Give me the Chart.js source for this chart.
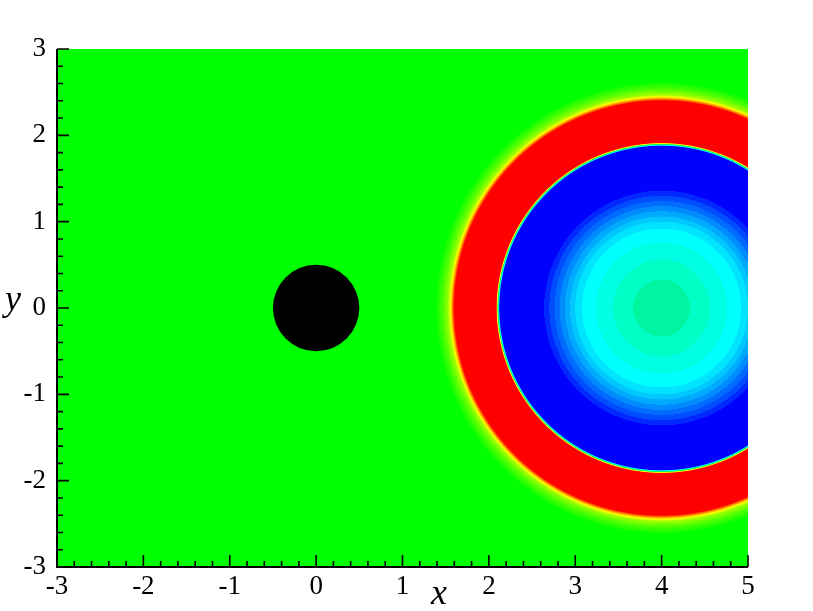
<!DOCTYPE html>
<html>
<head>
<meta charset="utf-8">
<script src="https://cdn.jsdelivr.net/npm/chart.js@4/dist/chart.umd.min.js"></script>
<style>
html,body{margin:0;padding:0;background:#fff;}
canvas{display:block;}
</style>
</head>
<body>
<canvas id="c" width="813" height="611"></canvas>
<script>
// ---- data ----
const xRange = [-3, 5];
const yRange = [-3, 3];
const xTickValues = [-3, -2, -1, 0, 1, 2, 3, 4, 5];
const yTickValues = [-3, -2, -1, 0, 1, 2, 3];
const minorStep = 0.2;
const obstacleCenter = [{x: 0, y: 0}];
const obstacleRadius = 0.5;
const ringCenter = [4, 0];
// radial profile of the contoured field around ringCenter (radius, colour)
const profileRadius = [0.00, 0.33, 0.33, 0.56, 0.56, 0.76, 0.76, 0.92, 0.92, 1.00, 1.00, 1.06, 1.06, 1.12, 1.12, 1.18, 1.18, 1.24, 1.24, 1.30, 1.30, 1.36, 1.36, 1.875, 1.885, 1.895, 1.905, 1.915, 2.40, 2.42, 2.445, 2.47, 2.53, 2.62, 99];
const profileColor  = ['#00f5a0','#00f5a0','#00ffc4','#00ffc4','#00ffe2','#00ffe2','#00ffff','#00ffff','#00e4ff','#00e4ff','#00c8ff','#00c8ff','#00aaff','#00aaff','#008cff','#008cff','#006cff','#006cff','#004cff','#004cff','#0028ff','#0028ff','#0000ff','#0000ff','#00ffff','#00ff60','#ffff00','#ff0000','#ff0000','#ff8000','#ffff00','#a0ff00','#50ff00','#00ff00','#00ff00'];
const xTitle = 'x';
const yTitle = 'y';

function hexToRgb(h){ return [parseInt(h.slice(1,3),16), parseInt(h.slice(3,5),16), parseInt(h.slice(5,7),16)]; }
const profileRgb = profileColor.map(hexToRgb);
function colourAt(r){
  for (let i = 0; i < profileRadius.length - 1; i++){
    const r0 = profileRadius[i], r1 = profileRadius[i+1];
    if (r >= r0 && r <= r1 && r1 > r0){
      const t = (r - r0) / (r1 - r0);
      const a = profileRgb[i], b = profileRgb[i+1];
      return [a[0]+(b[0]-a[0])*t, a[1]+(b[1]-a[1])*t, a[2]+(b[2]-a[2])*t];
    }
  }
  return profileRgb[profileRgb.length-1];
}

const fieldPlugin = {
  id: 'field',
  beforeDatasetsDraw(chart){
    const {ctx, chartArea, scales} = chart;
    const x0 = Math.round(chartArea.left), y0 = Math.round(chartArea.top);
    const w = Math.round(chartArea.right) - x0, h = Math.round(chartArea.bottom) - y0;
    const img = ctx.createImageData(w, h);
    const xs = new Float64Array(w), ys = new Float64Array(h);
    for (let i = 0; i < w; i++) xs[i] = scales.x.getValueForPixel(x0 + i + 0.5) - ringCenter[0];
    for (let j = 0; j < h; j++) ys[j] = scales.y.getValueForPixel(y0 + j + 0.5) - ringCenter[1];
    let k = 0;
    for (let j = 0; j < h; j++){
      for (let i = 0; i < w; i++){
        const c = colourAt(Math.hypot(xs[i], ys[j]));
        img.data[k++] = c[0]; img.data[k++] = c[1]; img.data[k++] = c[2]; img.data[k++] = 255;
      }
    }
    ctx.putImageData(img, x0, y0);
  },
  afterDraw(chart){
    const {ctx, chartArea, scales} = chart;
    const L = chartArea.left, B = chartArea.bottom, T = chartArea.top, R = chartArea.right;
    ctx.save();
    ctx.strokeStyle = '#000';
    ctx.lineWidth = 2;
    ctx.beginPath();
    ctx.moveTo(L, T); ctx.lineTo(L, B); ctx.lineTo(R, B);
    ctx.stroke();
    ctx.lineWidth = 1.6;
    ctx.beginPath();
    const nx = Math.round((xRange[1]-xRange[0])/minorStep);
    for (let i = 0; i <= nx; i++){
      const v = xRange[0] + i*minorStep;
      const major = Math.abs(v - Math.round(v)) < 1e-6;
      const p = scales.x.getPixelForValue(v);
      ctx.moveTo(p, B); ctx.lineTo(p, B - (major ? 12 : 6));
    }
    const ny = Math.round((yRange[1]-yRange[0])/minorStep);
    for (let i = 0; i <= ny; i++){
      const v = yRange[0] + i*minorStep;
      const major = Math.abs(v - Math.round(v)) < 1e-6;
      const p = scales.y.getPixelForValue(v);
      ctx.moveTo(L, p); ctx.lineTo(L + (major ? 12 : 6), p);
    }
    ctx.stroke();
    ctx.fillStyle = '#000';
    ctx.font = 'italic 36px "Liberation Serif", "DejaVu Serif", serif';
    ctx.textAlign = 'center';
    ctx.textBaseline = 'alphabetic';
    ctx.fillText(xTitle, 439, 604);
    ctx.fillText(yTitle, 13, 310);
    ctx.restore();
  }
};

const tickFont = {family: '"Liberation Serif", "Times New Roman", serif', size: 27};

new Chart(document.getElementById('c'), {
  type: 'scatter',
  data: {
    datasets: [{
      data: obstacleCenter,
      backgroundColor: '#000',
      borderWidth: 0,
      pointRadius: (c) => {
        const s = c.chart.scales.x;
        return s ? Math.abs(s.getPixelForValue(obstacleRadius) - s.getPixelForValue(0)) : 0;
      },
      pointHoverRadius: (c) => {
        const s = c.chart.scales.x;
        return s ? Math.abs(s.getPixelForValue(obstacleRadius) - s.getPixelForValue(0)) : 0;
      }
    }]
  },
  options: {
    responsive: false,
    devicePixelRatio: 1,
    animation: false,
    events: [],
    layout: {padding: {top: 49, right: 65, left: 0, bottom: 0}},
    plugins: {legend: {display: false}, tooltip: {enabled: false}},
    scales: {
      x: {
        type: 'linear', min: xRange[0], max: xRange[1],
        afterBuildTicks: (s) => { s.ticks = xTickValues.map(v => ({value: v})); },
        afterFit: (s) => { s.height = 44; },
        ticks: {font: tickFont, color: '#000', padding: 4, maxRotation: 0, autoSkip: false},
        grid: {display: false, drawTicks: false, tickLength: 0},
        border: {display: false}
      },
      y: {
        type: 'linear', min: yRange[0], max: yRange[1],
        afterBuildTicks: (s) => { s.ticks = yTickValues.map(v => ({value: v})); },
        afterFit: (s) => { s.width = 57; },
        ticks: {font: tickFont, color: '#000', padding: 11, autoSkip: false},
        grid: {display: false, drawTicks: false, tickLength: 0},
        border: {display: false}
      }
    }
  },
  plugins: [fieldPlugin]
});
</script>
</body>
</html>
